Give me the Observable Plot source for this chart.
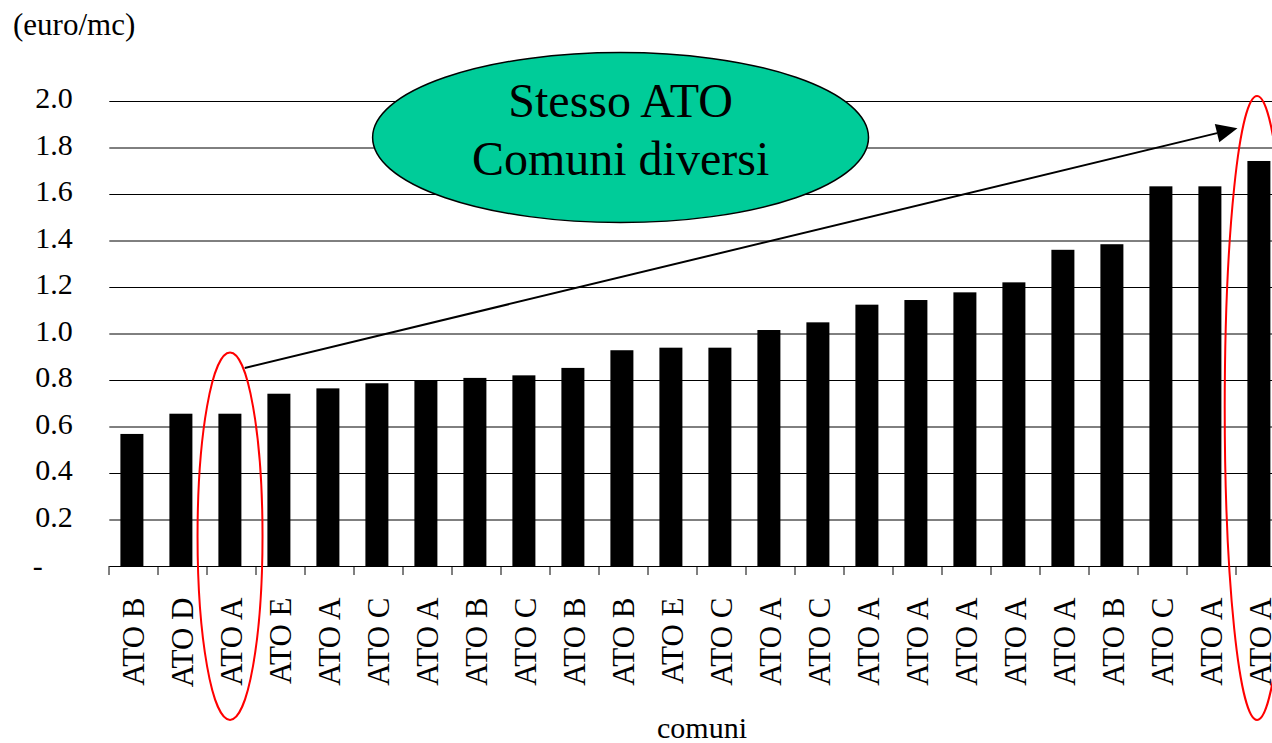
<!DOCTYPE html>
<html><head><meta charset="utf-8">
<script src="https://cdn.jsdelivr.net/npm/d3@7"></script>
<script src="https://cdn.jsdelivr.net/npm/@observablehq/plot@0.6"></script>
<style>html,body{margin:0;padding:0;background:#fff;overflow:hidden}</style>
</head><body><div id="chart"></div>
<script>
// ---- data ----
const categories = ["ATO B","ATO D","ATO A","ATO E","ATO A","ATO C","ATO A","ATO B","ATO C","ATO B","ATO B","ATO E","ATO C","ATO A","ATO C","ATO A","ATO A","ATO A","ATO A","ATO A","ATO B","ATO C","ATO A","ATO A"];
const values = [0.568,0.655,0.655,0.741,0.764,0.786,0.797,0.809,0.820,0.852,0.928,0.939,0.939,1.015,1.048,1.124,1.144,1.177,1.220,1.360,1.384,1.633,1.633,1.742];
const yTicks = [0.2,0.4,0.6,0.8,1.0,1.2,1.4,1.6,1.8,2.0];
const yZeroLabel = "-";
const yTitle = "(euro/mc)";
const xTitle = "comuni";
const bubbleLines = ["Stesso ATO","Comuni diversi"];
// annotation geometry in chart units (category index + offset in steps, value units)
const bubble = {cat: 10, off: -0.06, y: 1.843, rxSteps: 5.06, ry: 0.366};
const arrowFrom = {cat: 2, off: 0.27, y: 0.852};
const arrowTo = {cat: 23, off: -0.47, y: 1.883};
const highlights = [
  {cat: 2, off: -0.03, y: 0.128, rxSteps: 0.663, ry: 0.79},
  {cat: 23, off: -0.07, y: 0.68, rxSteps: 0.66, ry: 1.342}
];

const rows = categories.map((c, i) => ({i, c, value: values[i]}));
const FONT = "'Liberation Serif','Times New Roman',serif";

const plot = Plot.plot({
  width: 1272, height: 743,
  marginLeft: 109.3, marginRight: 0, marginTop: 101, marginBottom: 177,
  style: {fontFamily: FONT, fontSize: "30px", background: "white", color: "black", overflow: "hidden"},
  x: {type: "band", domain: d3.range(categories.length), range: [109.3, 1285.3], paddingInner: 0.53, paddingOuter: 0.265},
  y: {domain: [0, 2]},
  marks: [
    Plot.ruleY(yTicks, {stroke: "black", strokeWidth: 1}),
    Plot.barY(rows, {x: "i", y: "value", fill: "black", dx: -1.6}),
    Plot.ruleY([0], {stroke: "black", strokeWidth: 1}),
    Plot.axisX({tickRotate: -90, tickSize: 0, tickPadding: 31, tickFormat: i => categories[i], label: null, fontSize: 31}),
    Plot.axisY({ticks: yTicks, tickFormat: d => d.toFixed(1), tickSize: 0, tickPadding: 37, dy: -3, label: null, fontSize: 30}),
    Plot.axisY({ticks: [0], tickFormat: () => yZeroLabel, tickSize: 0, tickPadding: 67, label: null, fontSize: 30})
  ]
});
document.getElementById("chart").appendChild(plot);

// ---- overlay annotations using Plot's scales ----
const xs = plot.scale("x"), ys = plot.scale("y");
const step = xs.apply(1) - xs.apply(0);
const bw = xs.bandwidth;
const cx = (cat, off) => xs.apply(cat) + bw / 2 + off * step;
const Y = v => ys.apply(v);
const svg = d3.select(plot);
const g = svg.append("g").attr("text-anchor", "start");

// boundary tick marks below the baseline
const b0 = xs.apply(0) - (step - bw) / 2;
g.selectAll("line.tk").data(d3.range(categories.length + 1)).join("line")
  .attr("x1", k => b0 + k * step).attr("x2", k => b0 + k * step)
  .attr("y1", Y(0)).attr("y2", Y(0) + 9).attr("stroke", "black").attr("stroke-width", 1);

// axis titles
g.append("text").attr("x", 13).attr("y", 35).attr("text-anchor", "start").attr("font-family", FONT).attr("font-size", 31).text(yTitle);
g.append("text").attr("x", 702).attr("y", 738).attr("text-anchor", "middle").attr("font-family", FONT).attr("font-size", 30).text(xTitle);

// red highlight ellipses
for (const h of highlights) {
  g.append("ellipse").attr("cx", cx(h.cat, h.off)).attr("cy", Y(h.y))
    .attr("rx", h.rxSteps * step).attr("ry", Math.abs(Y(0) - Y(h.ry)))
    .attr("fill", "none").attr("stroke", "#ff0000").attr("stroke-width", 2);
}

// arrow
const ax1 = cx(arrowFrom.cat, arrowFrom.off), ay1 = Y(arrowFrom.y);
const ax2 = cx(arrowTo.cat, arrowTo.off), ay2 = Y(arrowTo.y);
const ang = Math.atan2(ay2 - ay1, ax2 - ax1);
const hl = 21, hw = 9.5;
const bx = ax2 - hl * Math.cos(ang), by = ay2 - hl * Math.sin(ang);
g.append("line").attr("x1", ax1).attr("y1", ay1).attr("x2", bx).attr("y2", by).attr("stroke", "black").attr("stroke-width", 2);
g.append("path").attr("d", `M${ax2},${ay2}L${bx + hw * Math.sin(ang)},${by - hw * Math.cos(ang)}L${bx - hw * Math.sin(ang)},${by + hw * Math.cos(ang)}Z`).attr("fill", "black");

// bubble
const bxC = cx(bubble.cat, bubble.off), byC = Y(bubble.y);
g.append("ellipse").attr("cx", bxC).attr("cy", byC).attr("rx", bubble.rxSteps * step)
  .attr("ry", Math.abs(Y(0) - Y(bubble.ry))).attr("fill", "#00cc99").attr("stroke", "black").attr("stroke-width", 1.5);
bubbleLines.forEach((t, k) => {
  g.append("text").attr("x", bxC).attr("y", byC - 21 + k * 58.5).attr("text-anchor", "middle")
    .attr("font-family", FONT).attr("font-size", 48).text(t);
});
</script>
</body></html>
